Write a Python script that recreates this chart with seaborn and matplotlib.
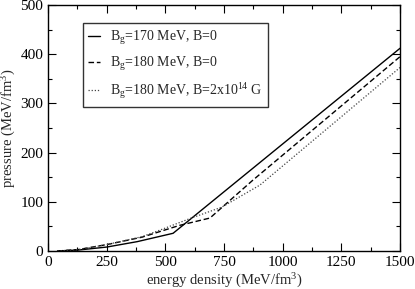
import numpy as np
import pandas as pd
import matplotlib
matplotlib.use('Agg')
import matplotlib.pyplot as plt
from matplotlib.ticker import MultipleLocator
import seaborn as sns

# EoS curves (energy density, pressure) in MeV/fm^3
solid_e = [40, 130, 250, 380, 533, 1500]
solid_p = [0, 2, 8, 19, 36, 412]

dashed_e = [40, 130, 250, 400, 480, 560, 690, 873, 1500]
dashed_p = [0, 3, 13, 28, 40, 52, 67, 144, 395]

dotted_e = [40, 130, 250, 400, 480, 605, 740, 903, 1500]
dotted_p = [0, 3, 13, 29, 43, 66, 89, 134, 373]

labels = [r'B$_{\rm g}$=170 MeV, B=0',
          r'B$_{\rm g}$=180 MeV, B=0',
          r'B$_{\rm g}$=180 MeV, B=2x10$^{14}$ G']

sns.set_style('ticks')
plt.rcParams['font.family'] = ['Liberation Serif', 'DejaVu Serif']
plt.rcParams['mathtext.fontset'] = 'custom'
plt.rcParams['mathtext.rm'] = 'Liberation Serif'
plt.rcParams['mathtext.it'] = 'Liberation Serif'

fs = 10.5

fig = plt.figure(figsize=(4.15, 2.89), dpi=100)
ax = fig.add_axes([0.1157, 0.1315, 0.8482, 0.8512])

sns.lineplot(x=solid_e, y=solid_p, ax=ax, color='black', lw=1.0,
             estimator=None, sort=False, label=labels[0])
sns.lineplot(x=dashed_e, y=dashed_p, ax=ax, color='black', lw=1.0,
             estimator=None, sort=False, label=labels[1])
ax.lines[-1].set_dashes([4, 2])
sns.lineplot(x=dotted_e, y=dotted_p, ax=ax, color='#444444', lw=0.9,
             estimator=None, sort=False, label=labels[2])
ax.lines[-1].set_dashes([1, 1.5])

ax.set_xlim(0, 1500)
ax.set_ylim(0, 500)
ax.xaxis.set_major_locator(MultipleLocator(250))
ax.xaxis.set_minor_locator(MultipleLocator(125))
ax.yaxis.set_major_locator(MultipleLocator(100))
ax.yaxis.set_minor_locator(MultipleLocator(50))
ax.tick_params(which='both', direction='in', top=True, right=True,
               labelsize=11, colors='black')
ax.tick_params(which='major', length=6, width=0.8)
ax.tick_params(which='minor', length=3, width=0.8)
for s in ax.spines.values():
    s.set_linewidth(1.0)
    s.set_color('black')

ax.set_xlabel(r'energy density (MeV/fm$^3$)', fontsize=fs, labelpad=2)
ax.set_ylabel(r'pressure (MeV/fm$^3$)', fontsize=fs, labelpad=2)

leg = ax.legend(loc='upper left', bbox_to_anchor=(0.099, 0.927),
                borderaxespad=0, fontsize=10, frameon=True, fancybox=False,
                handlelength=0.8, handletextpad=0.75, borderpad=0.4,
                labelspacing=0.6)
leg.get_frame().set_edgecolor('black')
leg.get_frame().set_linewidth(1.0)

plt.savefig('out.png', dpi=100)
